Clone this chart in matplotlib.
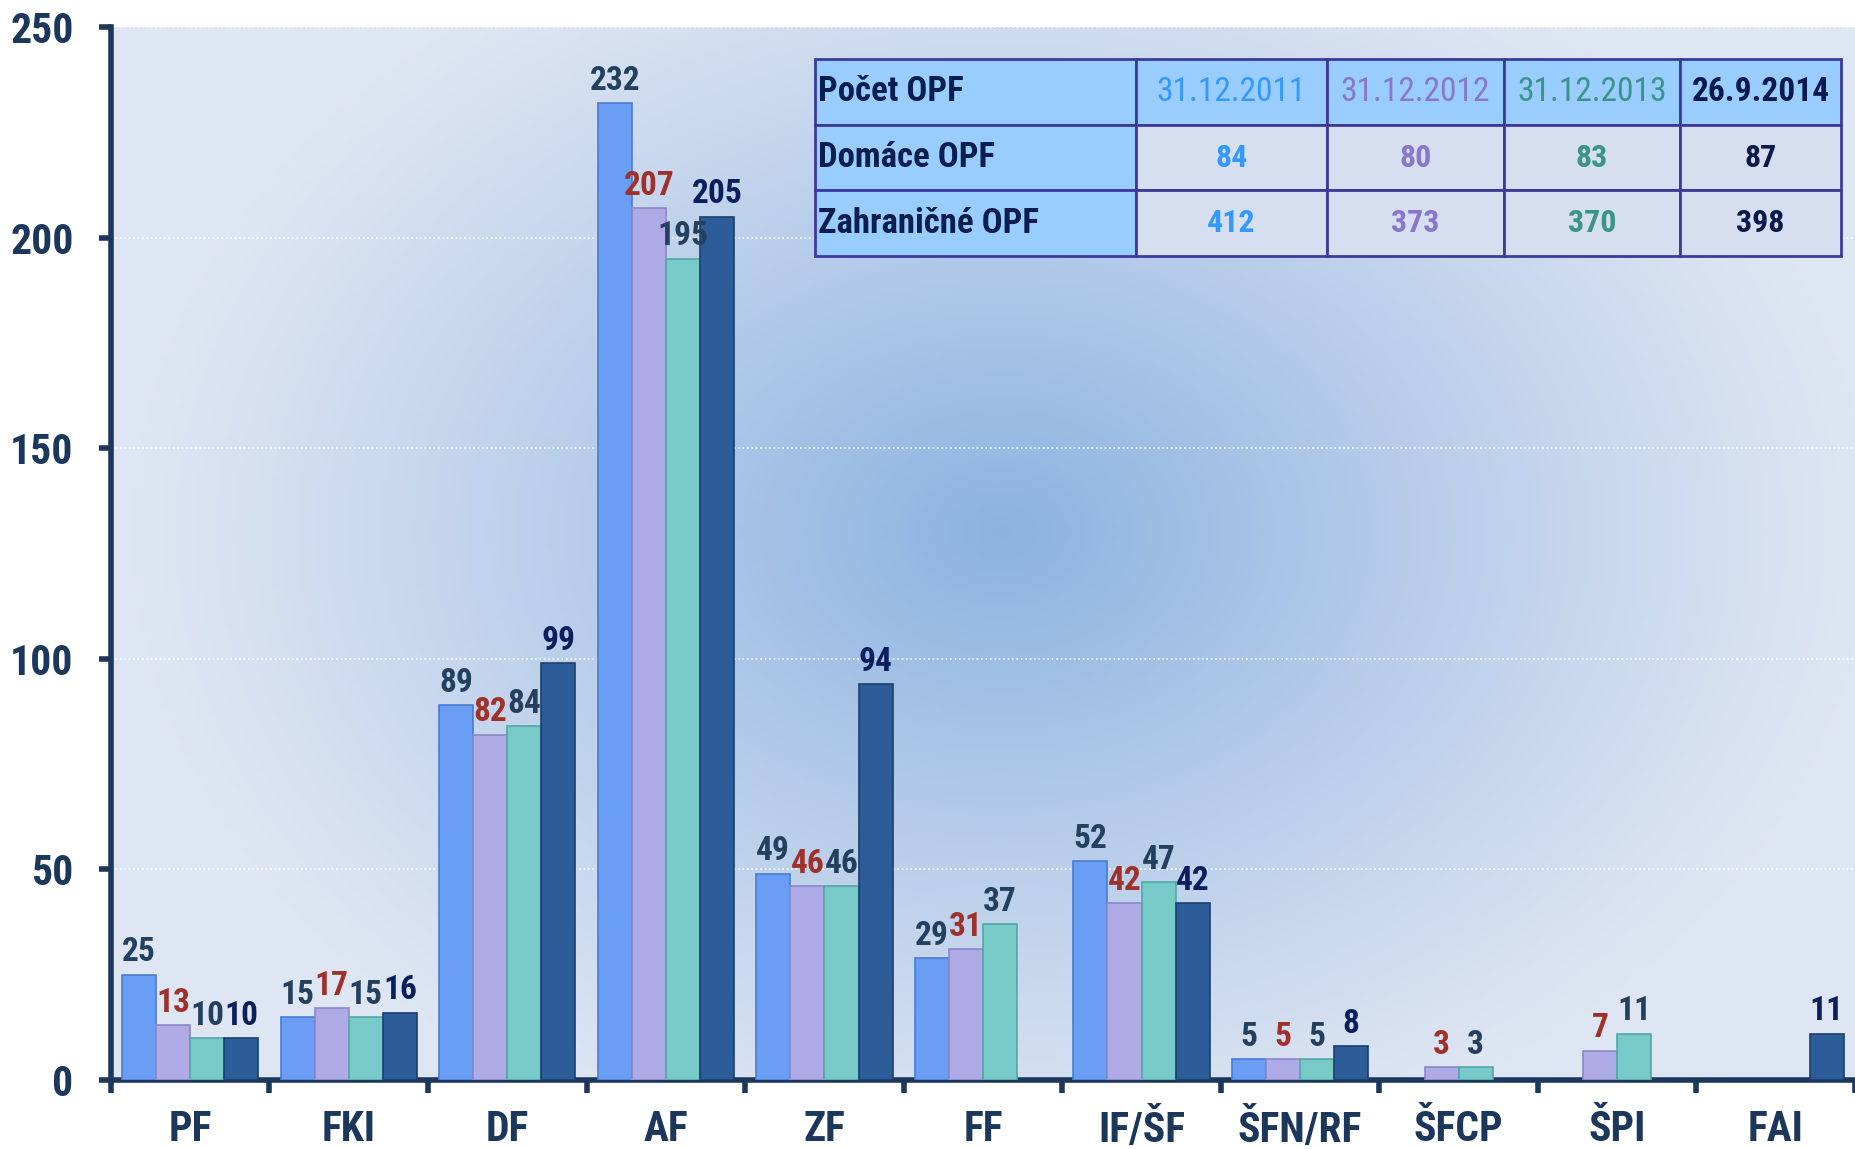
import numpy as np
import matplotlib
matplotlib.use("Agg")
import matplotlib.pyplot as plt

# údaje
kategorie = ["PF", "FKI", "DF", "AF", "ZF", "FF", "IF/ŠF", "ŠFN/RF", "ŠFCP", "ŠPI", "FAI"]
nan = np.nan
s2011 = [25, 15, 89, 232, 49, 29, 52, 5, nan, nan, nan]
s2012 = [13, 17, 82, 207, 46, 31, 42, 5, 3, 7, nan]
s2013 = [10, 15, 84, 195, 46, 37, 47, 5, 3, 11, nan]
s2014 = [10, 16, 99, 205, 94, nan, 42, 8, nan, nan, 11]

datumy = ["31.12.2011", "31.12.2012", "31.12.2013", "26.9.2014"]
domace = [84, 80, 83, 87]
zahranicne = [412, 373, 370, 398]

farby_stlpcov = ["#6a9ef5", "#aeaae6", "#78cac8", "#2d5d98"]
farby_hran = ["#4a7cd0", "#8c88c8", "#52a8a6", "#1c3f6e"]
farby_popisov = ["#24405f", "#a0302a", "#24405f", "#0b1f5e"]
farby_datumov = ["#3399ff", "#8877cc", "#3a9488", "#0a1a4a"]

plt.rcParams["font.family"] = ["Roboto Condensed", "Archivo Narrow", "Barlow Semi Condensed", "DejaVu Sans"]
plt.rcParams["font.weight"] = "bold"

fig = plt.figure(figsize=(18.55, 11.49), dpi=100)
ax = fig.add_axes([0.0598, 0.06, 0.9402, 0.9165])

# pozadie s gradientom
xx, yy = np.meshgrid(np.linspace(0, 1, 400), np.linspace(0, 1, 300))
r = np.sqrt(((xx - 0.51) / 0.5) ** 2 + ((yy - 0.52) / 0.62) ** 2)
t = np.clip(1 - r, 0, 1) ** 1.1
svetla = np.array([0.875, 0.902, 0.953])
tmava = np.array([0.55, 0.70, 0.88])
img = svetla + (tmava - svetla) * t[..., None]
ax.imshow(img, extent=[0, 1, 0, 1], transform=ax.transAxes, aspect="auto",
          zorder=0, origin="lower")

x = np.arange(len(kategorie))
w = 0.215
serie = [s2011, s2012, s2013, s2014]
for i, s in enumerate(serie):
    pos = x + (i - 1.5) * w
    ax.bar(pos, s, width=w, color=farby_stlpcov[i], edgecolor=farby_hran[i],
           linewidth=1.2, zorder=3)
    for px, v in zip(pos, s):
        if np.isnan(v):
            continue
        ax.text(px, v + 1.5, f"{int(v)}", ha="center", va="bottom", fontsize=24,
                fontweight="bold", color=farby_popisov[i], zorder=4)

ax.set_xlim(-0.5, len(kategorie) - 0.5)
ax.set_ylim(0, 250)
ax.set_yticks([0, 50, 100, 150, 200, 250])
ax.set_xticks(x)
ax.set_xticklabels(kategorie)
ax.set_xticks(np.arange(len(kategorie) + 1) - 0.5, minor=True)
ax.tick_params(axis="x", which="major", length=0, pad=21, labelsize=30,
               labelcolor="#1c375c")
ax.tick_params(axis="x", which="minor", length=9, width=4, color="#1c375c")
ax.tick_params(axis="y", length=9, width=4, color="#1c375c", pad=18,
               labelsize=30, labelcolor="#1c375c")
for lbl in ax.get_xticklabels() + ax.get_yticklabels():
    lbl.set_fontweight("bold")
ax.yaxis.grid(True, color="white", linestyle=":", linewidth=1.2, alpha=0.9, zorder=1)
ax.set_axisbelow(True)
for sp in ["top", "right"]:
    ax.spines[sp].set_visible(False)
for sp in ["left", "bottom"]:
    ax.spines[sp].set_linewidth(4)
    ax.spines[sp].set_color("#1c375c")

# tabuľka
riadky = [["Počet OPF"] + datumy,
          ["Domáce OPF"] + [str(v) for v in domace],
          ["Zahraničné OPF"] + [str(v) for v in zahranicne]]
sirky = np.array([321, 191, 177, 176, 161], dtype=float)
tab = ax.table(cellText=riadky, colWidths=list(sirky / sirky.sum()),
               bbox=[0.4037, 0.7825, 0.5883, 0.1871], zorder=5)
tab.auto_set_font_size(False)
for (ri, ci), cell in tab.get_celld().items():
    cell.set_edgecolor("#3d3a9c")
    cell.set_linewidth(2)
    txt = cell.get_text()
    if ri == 0 or ci == 0:
        cell.set_facecolor("#99ccff")
    else:
        cell.set_facecolor("#d6dff0")
    if ci == 0:
        txt.set_fontsize(25)
        txt.set_ha("left")
        cell.PAD = 0.01
        txt.set_color("#0b1f4f")
        txt.set_fontweight("bold")
    else:
        txt.set_fontsize(24 if ri == 0 else 23)
        txt.set_ha("center")
        cell._loc = "center"
        txt.set_color(farby_datumov[ci - 1])
        if ri == 0 and ci < 4:
            txt.set_fontweight("normal")
        else:
            txt.set_fontweight("bold")

fig.savefig("out.png", dpi=100)
